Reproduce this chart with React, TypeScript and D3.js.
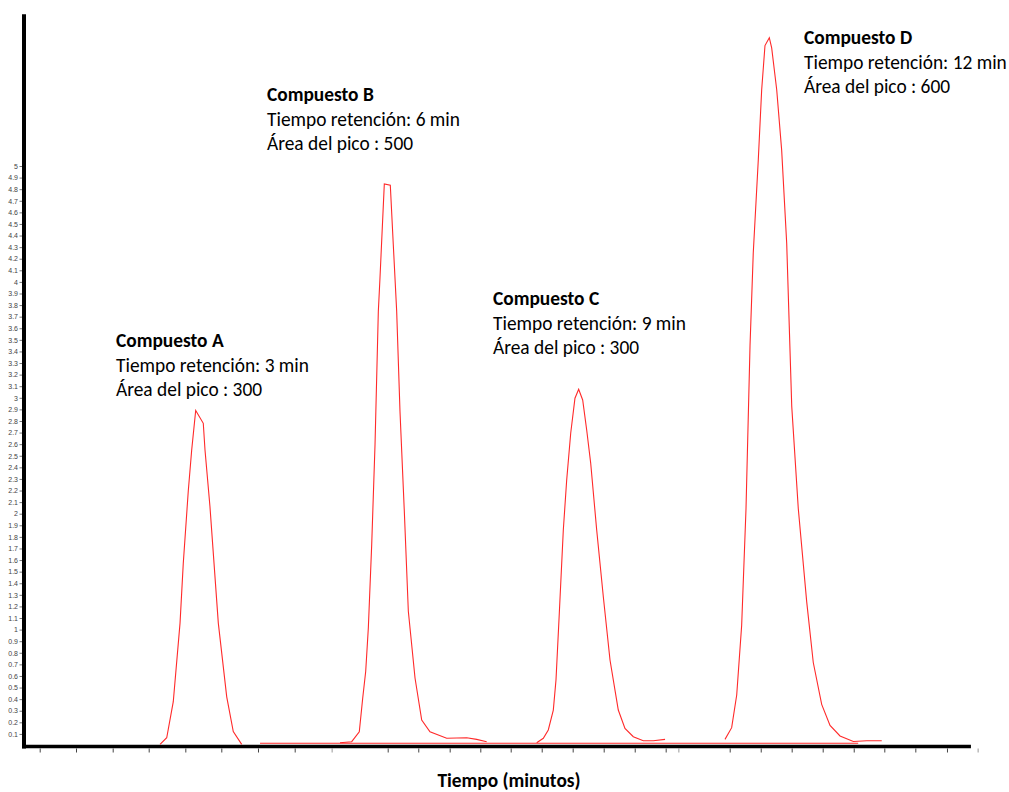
import * as d3 from "d3"
import { useEffect, useRef } from "react"

// chromatogram traces: [tiempo (min), señal]
const compuestoA: [number, number][] = [
	[2.44, 0.01], [2.545, 0.067], [2.648, 0.378], [2.754, 1.056], [2.805, 1.572],
	[2.884, 2.2], [2.937, 2.55], [3.0, 2.89], [3.119, 2.78], [3.146, 2.55],
	[3.224, 2.06], [3.355, 1.056], [3.487, 0.42], [3.59, 0.12], [3.722, 0.01],
]

const compuestoB: [number, number][] = [
	[5.265, 0.024], [5.449, 0.033], [5.568, 0.119], [5.622, 0.41], [5.669, 0.64],
	[5.71, 1.014], [5.763, 1.733], [5.815, 2.595], [5.867, 3.746], [5.893, 4.034],
	[5.961, 4.845], [6.055, 4.834], [6.102, 4.321], [6.155, 3.746], [6.207, 2.884],
	[6.275, 2.021], [6.338, 1.158], [6.443, 0.582], [6.548, 0.22], [6.678, 0.119],
	[6.94, 0.062], [7.254, 0.067], [7.411, 0.053], [7.568, 0.033],
]

const compuestoC: [number, number][] = [
	[8.353, 0.024], [8.457, 0.062], [8.535, 0.134], [8.614, 0.306], [8.656, 0.565],
	[8.708, 1.141], [8.771, 1.859], [8.824, 2.291], [8.887, 2.694], [8.954, 2.996],
	[9.012, 3.073], [9.075, 2.981], [9.138, 2.722], [9.201, 2.435], [9.295, 1.859],
	[9.399, 1.284], [9.504, 0.738], [9.634, 0.306], [9.739, 0.148], [9.87, 0.076],
	[10.027, 0.041], [10.184, 0.041], [10.368, 0.053],
]

const compuestoD: [number, number][] = [
	[11.309, 0.053], [11.414, 0.154], [11.493, 0.436], [11.571, 1.038], [11.639, 2.042],
	[11.702, 3.448], [11.753, 4.251], [11.832, 5.054], [11.885, 5.658], [11.937, 6.039],
	[12.005, 6.107], [12.042, 6.019], [12.121, 5.658], [12.199, 5.135], [12.278, 4.331],
	[12.357, 2.926], [12.46, 2.042], [12.592, 1.239], [12.695, 0.716], [12.827, 0.355],
	[12.958, 0.174], [13.115, 0.082], [13.324, 0.034], [13.535, 0.041], [13.77, 0.041],
]

const lineaBase: [number, number][] = [[4.01, 0.02], [13.4, 0.02]]

// annotations
const nombres = ["Compuesto A", "Compuesto B", "Compuesto C", "Compuesto D"]
const tiempos = [3, 6, 9, 12]
const areas = [300, 500, 300, 600]

// axis ticks
const yTicks = d3.range(1, 51).map(i => i / 10)
const xTicks = [
	0.551, 1.121, 1.697, 2.262, 2.837, 3.402, 3.978, 4.554,
	6.014, 6.494, 6.987, 7.468, 7.945, 8.432, 8.918, 9.405, 9.892, 10.378,
	11.383, 11.87, 12.356, 12.843, 13.33, 13.81, 14.297, 14.794,
]
const xTicksGris = [5.135, 10.576, 15.276]

const width = 1009
const height = 792
// text block anchors (left x, first baseline)
const labelPos = [[116, 347], [267, 101], [493, 305], [804, 44]]
const textFont = "Carlito, Lato, sans-serif"

export default function App() {

	const svgRef = useRef<SVGSVGElement>(null)

	useEffect(() => {
		const svg = d3.select(svgRef.current)
		svg.selectAll('*').remove()

		const x = d3.scaleLinear().domain([0, 15]).range([4.6, 960.1])
		const y = d3.scaleLinear().domain([0, 5]).range([745.5, 166])

		// y axis ticks
		const yAxis = d3.axisLeft(y)
			.tickValues(yTicks)
			.tickSize(2.5)
			.tickPadding(1.5)
			.tickFormat(d => d3.format("~g")(d as number))
		const gy = svg.append('g')
			.attr('transform', 'translate(22,0)')
			.call(yAxis)
		gy.select('.domain').remove()
		gy.selectAll('text')
			.attr('font-family', 'Liberation Sans, Arial, sans-serif')
			.attr('font-size', 7)
			.attr('fill', '#444')
		gy.selectAll('line').attr('stroke', '#777')

		// x axis ticks (no labels)
		const gx = svg.append('g')
			.attr('transform', 'translate(0,748.5)')
			.call(d3.axisBottom(x).tickValues(xTicks).tickSize(4).tickFormat(() => ''))
		gx.select('.domain').remove()
		gx.selectAll('line').attr('stroke', '#444')

		const gx2 = svg.append('g')
			.attr('transform', 'translate(0,748.5)')
			.call(d3.axisBottom(x).tickValues(xTicksGris).tickSize(4).tickFormat(() => ''))
		gx2.select('.domain').remove()
		gx2.selectAll('line').attr('stroke', '#bbb').attr('stroke-width', 1.5)

		// thick axis lines
		svg.append('line')
			.attr('x1', 24).attr('x2', 24)
			.attr('y1', y(6.31)).attr('y2', 748.5)
			.attr('stroke', 'black').attr('stroke-width', 4)
		svg.append('line')
			.attr('x1', 22).attr('x2', x(15.17))
			.attr('y1', 746.5).attr('y2', 746.5)
			.attr('stroke', 'black').attr('stroke-width', 3.5)

		// traces
		const line = d3.line<[number, number]>()
			.x(d => x(d[0]))
			.y(d => y(d[1]))
		svg.append('g')
			.selectAll('path')
			.data([lineaBase, compuestoA, compuestoB, compuestoC, compuestoD])
			.enter()
			.append('path')
			.attr('d', d => line(d))
			.attr('fill', 'none')
			.attr('stroke', '#ff2a2a')
			.attr('stroke-width', 1.1)

		// annotations
		const labels = svg.append('g')
			.attr('font-family', textFont)
			.attr('font-size', 19.4)
			.attr('fill', 'black')
		nombres.forEach((n, i) => {
			const [lx, ly] = labelPos[i]
			const t = labels.append('text').attr('x', lx).attr('y', ly)
			t.append('tspan').attr('x', lx).attr('font-weight', 'bold').text(n)
			t.append('tspan').attr('x', lx).attr('dy', 24.5).text(`Tiempo retención: ${tiempos[i]} min`)
			t.append('tspan').attr('x', lx).attr('dy', 24.5).text(`Área del pico : ${areas[i]}`)
		})

		// x axis title
		svg.append('text')
			.attr('x', 509)
			.attr('y', 787)
			.attr('text-anchor', 'middle')
			.attr('font-family', textFont)
			.attr('font-weight', 'bold')
			.attr('font-size', 19.4)
			.text('Tiempo (minutos)')
	}, [])

	return (
		<svg ref={svgRef} width={width} height={height}
			style={{ position: 'absolute', left: 0, top: 0, background: 'white' }} />
	)
}
